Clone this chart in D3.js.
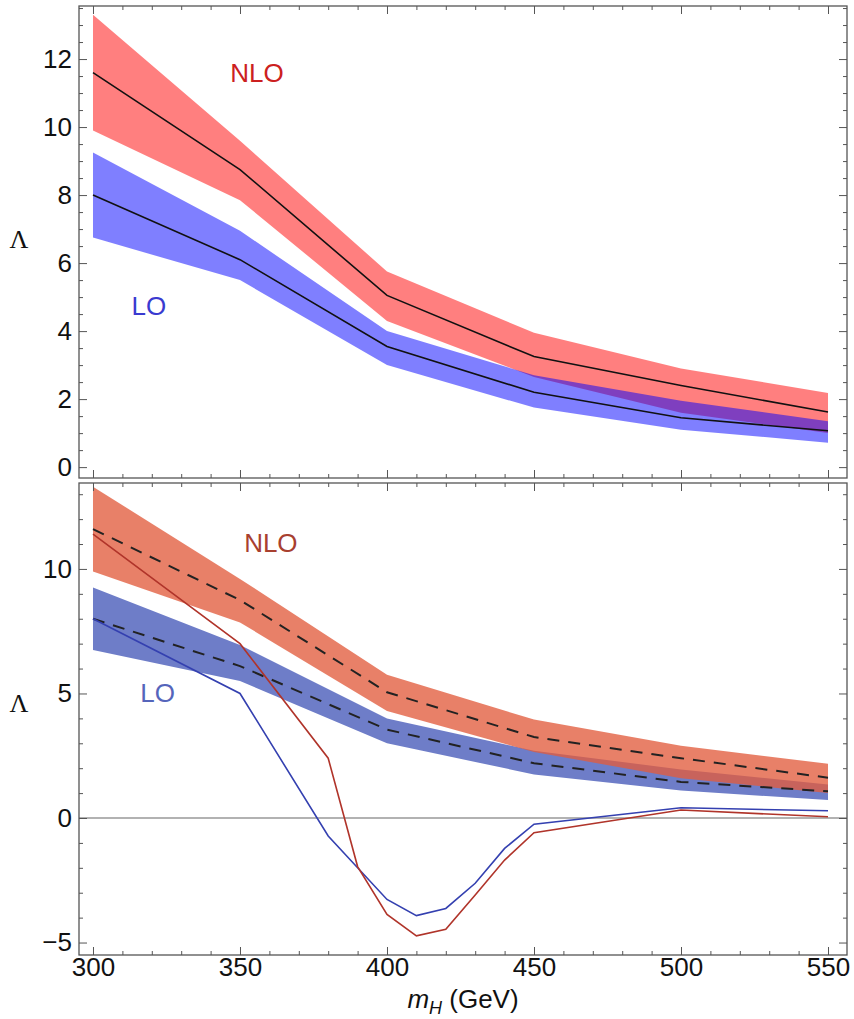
<!DOCTYPE html>
<html>
<head>
<meta charset="utf-8">
<script src="https://cdn.jsdelivr.net/npm/d3@7/dist/d3.min.js"></script>
<style>
  body { margin: 0; background: #fff; }
  svg text { font-family: "Liberation Sans", Arial, Helvetica, sans-serif; }
</style>
</head>
<body>
<svg class="svg_Lambda" width="854" height="1019"></svg>
<script>
var w = 854;
var h = 1019;
var left = 79;
var right = 847;

// band data (both panels use the same bands)
var mass = [300, 350, 400, 450, 500, 550];
var nloCentral = [11.6, 8.75, 5.05, 3.25, 2.4, 1.62];
var nloUpper = [13.3, 9.6, 5.75, 3.95, 2.9, 2.18];
var nloLower = [9.9, 7.85, 4.3, 2.65, 1.6, 1.0];
var loCentral = [8.0, 6.1, 3.55, 2.2, 1.45, 1.07];
var loUpper = [9.25, 6.95, 4.0, 2.7, 1.95, 1.35];
var loLower = [6.75, 5.5, 3.0, 1.75, 1.1, 0.72];

// thin lines of the lower panel
var scanMassLO = [300, 350, 380, 400, 410, 420, 430, 440, 450, 500, 550];
var loScan = [8.0, 5.0, -0.72, -3.27, -3.92, -3.63, -2.62, -1.22, -0.25, 0.41, 0.29];
var scanMassNLO = [300, 350, 380, 390, 400, 410, 420, 430, 440, 450, 500, 550];
var nloScan = [11.4, 7.0, 2.4, -1.95, -3.87, -4.73, -4.47, -3.09, -1.69, -0.59, 0.32, 0.05];

// ticks
var xTicks = [300, 350, 400, 450, 500, 550];
var topYTicks = [0, 2, 4, 6, 8, 10, 12];
var botYTicks = [-5, 0, 5, 10];

var canvas = d3.select(".svg_Lambda");

var xScale = d3.scaleLinear().domain([295.24, 556.46]).range([left, right]);
var yTop = d3.scaleLinear().domain([-0.32, 13.56]).range([478, 6]);
var yBot = d3.scaleLinear().domain([-5.5, 13.45]).range([955, 483]);

function rows(a, b, c) {
  return mass.map((m, i) => ({ m: m, hi: a[i], lo: b[i], c: c[i] }));
}
var nloRows = rows(nloUpper, nloLower, nloCentral);
var loRows = rows(loUpper, loLower, loCentral);

function band(y) {
  return d3.area().x((d) => xScale(d.m)).y0((d) => y(d.lo)).y1((d) => y(d.hi));
}
function centre(y) {
  return d3.line().x((d) => xScale(d.m)).y((d) => y(d.c));
}

// frame + ticks on all four sides, Mathematica style (inward)
function drawFrame(y, yMajor, yMinor, showX) {
  var y0 = y.range()[0], y1 = y.range()[1];
  var xMinor = d3.range(300, 556, 10).filter((v) => v % 50 != 0);
  var g = canvas.append("g").attr("class", "frame");

  function styleAxis(sel) {
    sel.selectAll("path").remove();
    sel.selectAll("line").attr("stroke", "#555").attr("stroke-width", 1);
    sel.selectAll("text").attr("fill", "#111").style("font-size", "26px");
  }

  g.append("g").attr("transform", "translate(" + left + ",0)")
    .call(d3.axisLeft(y).tickValues(yMajor).tickSizeInner(-8).tickSizeOuter(0).tickPadding(7))
    .call(styleAxis);
  g.append("g").attr("transform", "translate(" + left + ",0)")
    .call(d3.axisLeft(y).tickValues(yMinor).tickSize(-4).tickFormat(""))
    .call(styleAxis);
  g.append("g").attr("transform", "translate(" + right + ",0)")
    .call(d3.axisRight(y).tickValues(yMajor).tickSize(-8).tickFormat(""))
    .call(styleAxis);
  g.append("g").attr("transform", "translate(" + right + ",0)")
    .call(d3.axisRight(y).tickValues(yMinor).tickSize(-4).tickFormat(""))
    .call(styleAxis);

  g.append("g").attr("transform", "translate(0," + y0 + ")")
    .call(d3.axisBottom(xScale).tickValues(xTicks).tickSizeInner(-8).tickSizeOuter(0)
      .tickPadding(3).tickFormat(showX ? d3.format("d") : ""))
    .call(styleAxis);
  g.append("g").attr("transform", "translate(0," + y0 + ")")
    .call(d3.axisBottom(xScale).tickValues(xMinor).tickSize(-4).tickFormat(""))
    .call(styleAxis);
  g.append("g").attr("transform", "translate(0," + y1 + ")")
    .call(d3.axisTop(xScale).tickValues(xTicks).tickSize(-8).tickFormat(""))
    .call(styleAxis);
  g.append("g").attr("transform", "translate(0," + y1 + ")")
    .call(d3.axisTop(xScale).tickValues(xMinor).tickSize(-4).tickFormat(""))
    .call(styleAxis);

  g.append("rect")
    .attr("x", left).attr("y", y1)
    .attr("width", right - left).attr("height", y0 - y1)
    .attr("fill", "none").attr("stroke", "#555").attr("stroke-width", 1.3);
}

function lambdaLabel(yPix) {
  canvas.append("text")
    .attr("x", 19).attr("y", yPix)
    .attr("text-anchor", "middle").attr("dominant-baseline", "central")
    .style("font-family", "'Liberation Serif', 'DejaVu Serif', serif")
    .style("font-size", "26px").attr("fill", "#111")
    .text("\u039B");
}

function tag(txt, m, v, y, col) {
  canvas.append("text")
    .attr("x", xScale(m)).attr("y", y(v))
    .attr("text-anchor", "middle")
    .style("font-size", "26px").attr("fill", col)
    .text(txt);
}

// ---------- upper panel ----------
canvas.append("path").datum(nloRows).attr("d", band(yTop))
  .attr("fill", "#ff0000").attr("fill-opacity", 0.5);
canvas.append("path").datum(loRows).attr("d", band(yTop))
  .attr("fill", "#0000ff").attr("fill-opacity", 0.5);
[nloRows, loRows].forEach(function (r) {
  canvas.append("path").datum(r).attr("d", centre(yTop))
    .attr("fill", "none").attr("stroke", "#111").attr("stroke-width", 1.6);
});
drawFrame(yTop, topYTicks, d3.range(0, 13.6, 0.5).filter((v) => v % 2 != 0), false);
lambdaLabel(yTop(6.7));
tag("NLO", 355.8, 11.32, yTop, "#cc2020");
tag("LO", 319, 4.47, yTop, "#3a3ad0");

// ---------- lower panel ----------
canvas.append("line")
  .attr("x1", left).attr("x2", right)
  .attr("y1", yBot(0)).attr("y2", yBot(0))
  .attr("stroke", "#999").attr("stroke-width", 1.6);
canvas.append("path").datum(loRows).attr("d", band(yBot))
  .attr("fill", "#6e7dc8");
canvas.append("path").datum(nloRows).attr("d", band(yBot))
  .attr("fill", "#e25c3d").attr("fill-opacity", 0.78);
[nloRows, loRows].forEach(function (r) {
  canvas.append("path").datum(r).attr("d", centre(yBot))
    .attr("fill", "none").attr("stroke", "#222").attr("stroke-width", 2)
    .attr("stroke-dasharray", "12,9");
});

var scanLine = d3.line().x((d) => xScale(d[0])).y((d) => yBot(d[1]));
canvas.append("path").datum(d3.zip(scanMassLO, loScan)).attr("d", scanLine)
  .attr("fill", "none").attr("stroke", "#3440b0").attr("stroke-width", 1.6);
canvas.append("path").datum(d3.zip(scanMassNLO, nloScan)).attr("d", scanLine)
  .attr("fill", "none").attr("stroke", "#b0342a").attr("stroke-width", 1.6);

drawFrame(yBot, botYTicks, d3.range(-5, 13.5, 1).filter((v) => v % 5 != 0), true);
lambdaLabel(yBot(4.6));
tag("NLO", 360.5, 10.68, yBot, "#a8402f");
tag("LO", 322, 4.65, yBot, "#5565bb");

// x-axis title: m_H (GeV)
var xt = canvas.append("text")
  .attr("x", (left + right) / 2).attr("y", 1008)
  .attr("text-anchor", "middle")
  .style("font-size", "26px").attr("fill", "#111");
xt.append("tspan").style("font-style", "italic").text("m");
xt.append("tspan").style("font-style", "italic").style("font-size", "18px")
  .attr("dy", 6).text("H");
xt.append("tspan").attr("dy", -6).text(" (GeV)");
</script>
</body>
</html>
